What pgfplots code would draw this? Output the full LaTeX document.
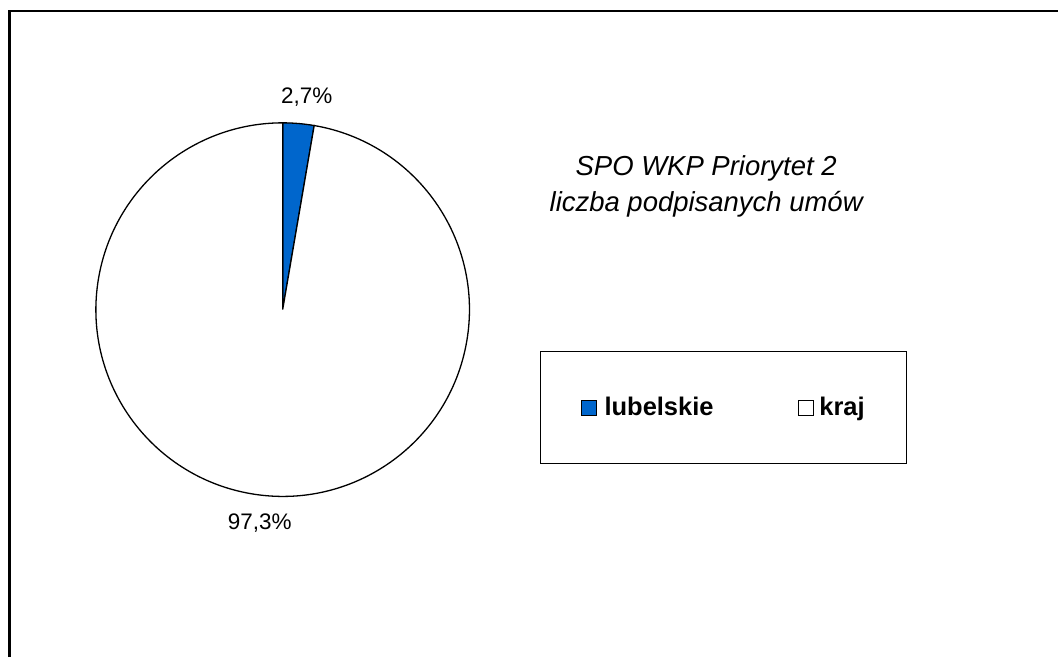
\documentclass[border=0pt]{standalone}
\usepackage{pgfplots}
\pgfplotsset{compat=1.18}
\usepackage{fontspec}
\setmainfont{Liberation Sans}
\definecolor{lubblue}{HTML}{0066CC}
\begin{document}
\begin{tikzpicture}
% data: share of signed contracts (%)
\def\valA{2.7}% lubelskie
\def\valB{97.3}% kraj
\begin{axis}[
  width=1059bp, height=658bp, scale only axis,
  xmin=0, xmax=1059, ymin=0, ymax=658,
  axis lines=none, clip=false,
  legend columns=2,
  legend style={at={(axis cs:724.5,250)}, anchor=center, draw=black, line width=1bp,
    inner xsep=40bp, inner ysep=44bp,
    font=\fontsize{25.5bp}{28bp}\selectfont\bfseries,
    /tikz/every even column/.append style={column sep=83bp}},
  legend image code/.code={\draw[#1, line width=1bp] (0bp,-7.5bp) rectangle (15bp,7.5bp);},
]
\path (axis cs:0,0) rectangle (axis cs:1059,658);
% frame
\draw[line width=2.5bp] (axis cs:9.5,0) -- (axis cs:9.5,647) -- (axis cs:1059,647);
% pie
\pgfmathsetmacro\endA{90-3.6*\valA}
\filldraw[fill=lubblue, draw=black, line width=1.3bp] (axis cs:283,348) -- (axis cs:283,535) arc[start angle=90, end angle=\endA, radius=187bp] -- cycle;
\filldraw[fill=white, draw=black, line width=1.3bp] (axis cs:283,348) -- ++(\endA:187bp) arc[start angle=\endA, end angle=-270, radius=187bp] -- cycle;
% labels
\node[font=\fontsize{22.5bp}{26bp}\selectfont] at (axis cs:307,561) {2,7\%};
\node[font=\fontsize{22.5bp}{26bp}\selectfont] at (axis cs:260,134) {97,3\%};
\node[font=\fontsize{27.5bp}{36bp}\selectfont\itshape, align=center] at (axis cs:707,471) {SPO WKP Priorytet 2\\liczba podpisanych umów};
\addlegendimage{fill=lubblue, draw=black}
\addlegendentry{\hspace{6bp}lubelskie}
\addlegendimage{fill=white, draw=black}
\addlegendentry{\hspace{3bp}kraj}
\end{axis}
\end{tikzpicture}
\end{document}
